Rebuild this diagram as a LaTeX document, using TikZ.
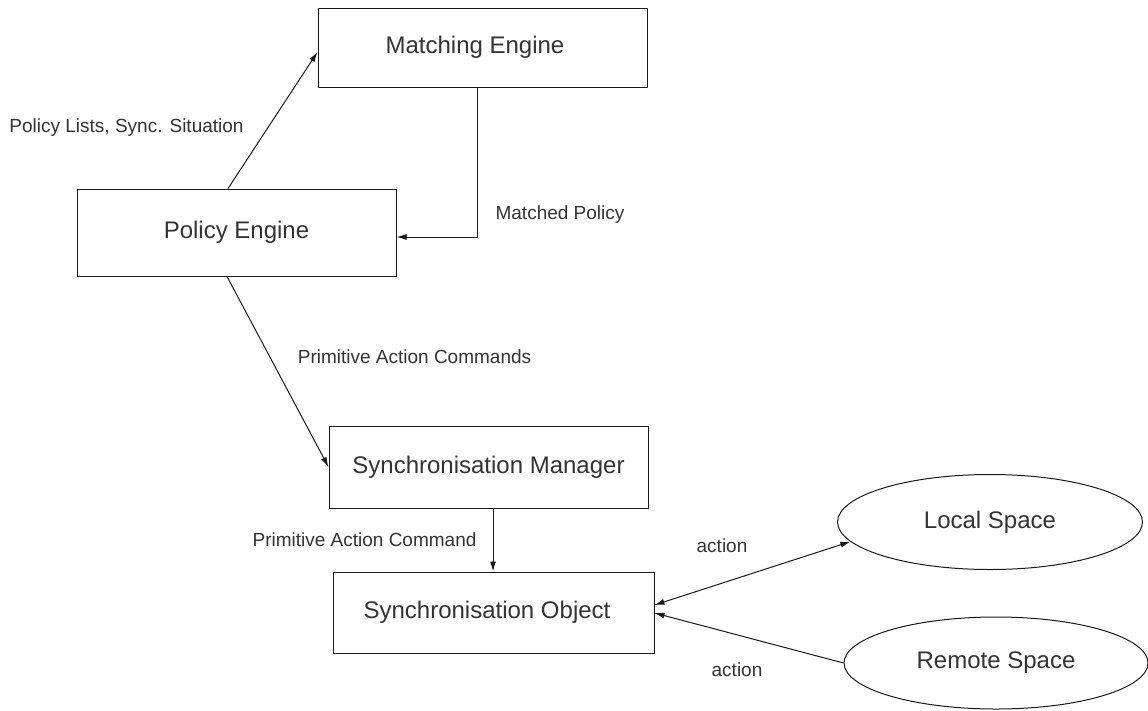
\documentclass[tikz,border=0pt]{standalone}
\usepackage{fontspec}
\setmainfont{Liberation Sans}
\usetikzlibrary{arrows.meta,shapes.geometric}
\begin{document}
\begin{tikzpicture}[x=1pt,y=-1pt,
  box/.style={draw=black!90, line width=1pt, rectangle, inner sep=0pt, font=\fontsize{24}{28}\selectfont, text=black!80},
  oval/.style={draw=black!90, ellipse, line width=1pt, inner sep=0pt, font=\fontsize{24}{28}\selectfont, text=black!80},
  lbl/.style={font=\fontsize{19}{22}\selectfont, text=black!80, inner sep=0pt},
  conn/.style={draw=black!90, line width=1pt, -{Latex[length=10pt,width=6pt]}},
  biconn/.style={draw=black!90, line width=1pt, {Latex[length=10pt,width=6pt]}-{Latex[length=10pt,width=6pt]}}]
\useasboundingbox (0,0) rectangle (1148,710);
\node[box, minimum width=329pt, minimum height=79pt] (me) at (482.5,47.5) {Matching Engine\kern15pt\relax};
\node[box, minimum width=319pt, minimum height=87pt] (pe) at (236.5,232.5) {Policy Engine};
\node[box, minimum width=319pt, minimum height=82pt] (sm) at (488.5,467) {Synchronisation Manager};
\node[box, minimum width=321pt, minimum height=81pt] (so) at (493.5,612.5) {Synchronisation Object\kern13pt\relax};
\node[oval, minimum width=305pt, minimum height=95pt] (ls) at (990,522) {Local Space};
\node[oval, minimum width=304pt, minimum height=92pt] (rs) at (996,663) {Remote Space};

\node[lbl] (l1) at (126.5,128) {Policy Lists, Sync. Situation};
\node[lbl] (l2) at (560,215) {Matched Policy};
\node[lbl] (l3) at (414.5,357) {Primitive Action Commands};
\node[lbl] (l4) at (364.5,540) {Primitive Action Command};
\node[lbl] (l5) at (722,546) {action};
\node[lbl] (l6) at (737,670) {action};

\coordinate (meb) at ([xshift=-5.5pt]me.south);
\draw[conn] ([xshift=-8.5pt]pe.north) -- ([yshift=-4.5pt]me.west);
\draw[conn] (meb) |- ([yshift=-4.5pt]pe.east);
\draw[conn] ([xshift=-9.5pt]pe.south) -- (sm.west);
\coordinate (smb) at ([xshift=4.5pt]sm.south);
\draw[conn] (smb) -- (smb |- so.north);
\draw[biconn] ([yshift=7.5pt]so.east) -- (ls.188);
\draw[conn] (rs.west) -- ([yshift=-0.5pt]so.east);
\end{tikzpicture}
\end{document}
